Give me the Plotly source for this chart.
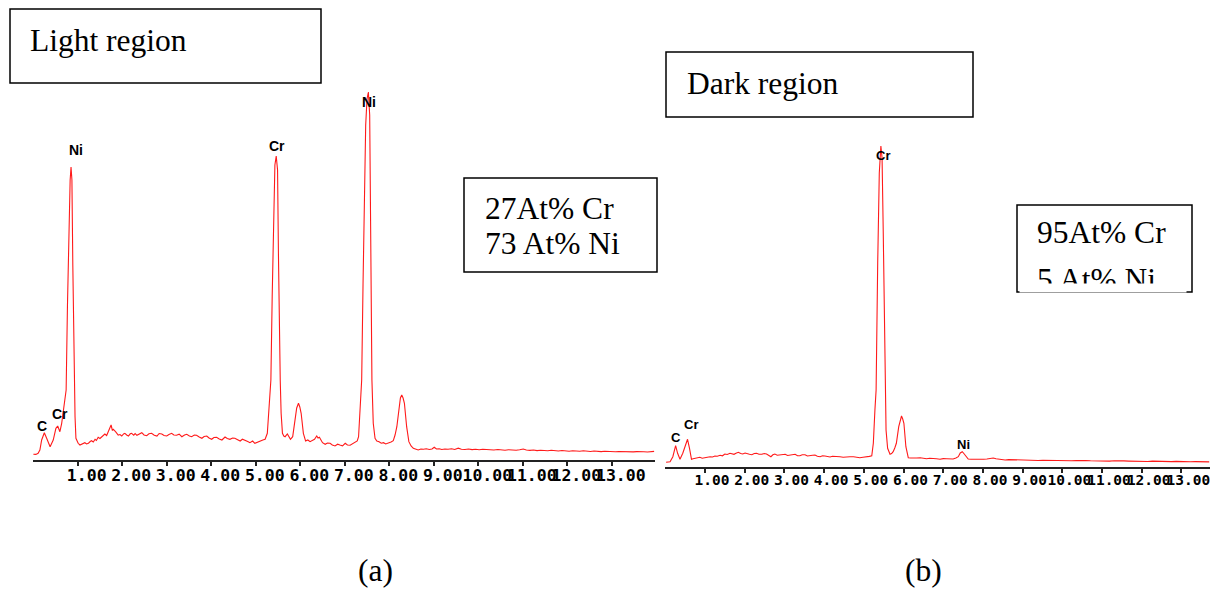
import plotly.graph_objects as go

W, H = 1212, 590

# ---------------- data ----------------
# Panel (a): light region EDS spectrum (energy keV, counts)
energy_a = [0.00, 0.06, 0.11, 0.15, 0.19, 0.25, 0.30, 0.34, 0.38, 0.45, 0.51, 0.55, 0.60, 0.64, 0.68,
            0.71, 0.74, 0.77, 0.80, 0.83, 0.85, 0.87, 0.89, 0.92, 0.94, 0.96, 1.01, 1.05, 1.09, 1.12,
            1.16, 1.20, 1.24, 1.28, 1.31, 1.35, 1.39, 1.42, 1.46, 1.50, 1.54, 1.58, 1.61, 1.65, 1.69,
            1.72, 1.75, 1.78, 1.80, 1.85, 1.88, 1.91, 1.95, 1.99, 2.03, 2.06, 2.10, 2.14, 2.18, 2.21,
            2.26, 2.29, 2.33, 2.38, 2.44, 2.49, 2.55, 2.60, 2.66, 2.72, 2.78, 2.83, 2.89, 2.94, 3.00,
            3.05, 3.11, 3.16, 3.22, 3.28, 3.34, 3.40, 3.45, 3.51, 3.56, 3.62, 3.67, 3.73, 3.79, 3.84,
            3.90, 3.95, 4.01, 4.06, 4.12, 4.18, 4.24, 4.31, 4.36, 4.42, 4.48, 4.53, 4.59, 4.65, 4.70,
            4.76, 4.82, 4.87, 4.93, 4.98, 5.04, 5.10, 5.16, 5.21, 5.26, 5.30, 5.34, 5.37, 5.40, 5.43,
            5.46, 5.49, 5.51, 5.53, 5.55, 5.57, 5.60, 5.63, 5.66, 5.71, 5.75, 5.78, 5.83, 5.88, 5.92,
            5.96, 5.99, 6.02, 6.07, 6.12, 6.17, 6.22, 6.27, 6.32, 6.37, 6.40, 6.43, 6.50, 6.56, 6.61,
            6.67, 6.72, 6.78, 6.84, 6.89, 6.95, 7.01, 7.06, 7.12, 7.18, 7.23, 7.28, 7.31, 7.34, 7.38,
            7.41, 7.44, 7.47, 7.50, 7.53, 7.56, 7.58, 7.61, 7.64, 7.68, 7.72, 7.77, 7.82, 7.87, 7.92,
            7.98, 8.04, 8.09, 8.13, 8.17, 8.22, 8.25, 8.28, 8.31, 8.34, 8.39, 8.44, 8.49, 8.54, 8.60,
            8.65, 8.71, 8.77, 8.83, 8.90, 8.96, 9.01, 9.06, 9.12, 9.18, 9.25, 9.32, 9.40, 9.47, 9.55,
            9.62, 9.70, 9.78, 9.86, 9.94, 10.02, 10.10, 10.18, 10.26, 10.35, 10.44, 10.52, 10.60, 10.68, 10.76,
            10.85, 10.93, 11.01, 11.08, 11.16, 11.24, 11.32, 11.40, 11.48, 11.56, 11.64, 11.72, 11.80, 11.88, 11.96,
            12.04, 12.12, 12.20, 12.28, 12.36, 12.44, 12.52, 12.60, 12.68, 12.76, 12.84, 12.92, 13.00, 13.08, 13.16,
            13.24, 13.32, 13.40, 13.48, 13.56, 13.64, 13.72, 13.80, 13.88, 13.95]
counts_a = [7, 6, 17, 50, 150, 223, 170, 120, 83, 150, 267, 290, 233, 317, 450,
            550, 650, 1500, 2300, 2750, 2880, 2750, 1900, 650, 383, 167, 117, 100, 107, 120,
            123, 110, 117, 135, 143, 130, 157, 145, 177, 165, 183, 200, 210, 195, 233,
            260, 300, 245, 257, 233, 215, 200, 205, 190, 210, 217, 200, 190, 212, 217,
            198, 215, 197, 210, 223, 200, 193, 212, 217, 198, 190, 215, 210, 195, 190,
            205, 217, 200, 197, 208, 183, 200, 207, 190, 183, 200, 197, 180, 167, 185,
            190, 170, 157, 175, 177, 160, 150, 180, 165, 157, 170, 167, 150, 140, 158,
            150, 135, 123, 140, 117, 130, 140, 150, 157, 217, 483, 750, 1600, 2500, 2900,
            2990, 2850, 2000, 1100, 750, 417, 217, 190, 183, 210, 175, 157, 183, 350, 470,
            517, 480, 417, 217, 140, 150, 133, 145, 157, 190, 170, 177, 123, 107, 120,
            117, 100, 90, 108, 100, 92, 117, 100, 97, 112, 123, 140, 183, 417, 750,
            1700, 2700, 3300, 3560, 3630, 3400, 2300, 750, 317, 167, 140, 133, 118, 123, 110,
            117, 130, 143, 200, 283, 483, 570, 600, 570, 517, 283, 133, 90, 67, 55,
            50, 60, 57, 62, 55, 60, 78, 60, 63, 55, 60, 57, 62, 55, 68,
            58, 55, 60, 54, 57, 52, 58, 54, 55, 50, 55, 52, 48, 53, 50,
            47, 52, 60, 50, 46, 50, 44, 48, 45, 42, 47, 44, 40, 45, 42,
            38, 43, 40, 37, 42, 38, 35, 40, 36, 34, 38, 34, 36, 32, 35,
            33, 30, 35, 31, 34, 30, 33, 30, 34, 36]

# Panel (b): dark region EDS spectrum (energy keV, counts)
energy_b = [0.02, 0.08, 0.12, 0.19, 0.26, 0.31, 0.37, 0.44, 0.50, 0.56, 0.61, 0.66, 0.70, 0.75, 0.81,
            0.87, 0.93, 1.00, 1.06, 1.13, 1.19, 1.25, 1.31, 1.38, 1.44, 1.50, 1.56, 1.63, 1.68, 1.73,
            1.78, 1.84, 1.90, 1.95, 2.01, 2.07, 2.12, 2.18, 2.24, 2.30, 2.36, 2.43, 2.49, 2.55, 2.60,
            2.66, 2.71, 2.76, 2.82, 2.89, 2.95, 3.02, 3.08, 3.14, 3.20, 3.27, 3.33, 3.39, 3.45, 3.52,
            3.58, 3.65, 3.71, 3.77, 3.83, 3.90, 3.96, 4.02, 4.08, 4.15, 4.21, 4.28, 4.34, 4.40, 4.48,
            4.57, 4.65, 4.74, 4.82, 4.90, 4.98, 5.07, 5.14, 5.20, 5.24, 5.28, 5.31, 5.35, 5.39, 5.43,
            5.46, 5.49, 5.52, 5.54, 5.56, 5.60, 5.66, 5.70, 5.74, 5.78, 5.82, 5.88, 5.92, 5.95, 5.98,
            6.01, 6.06, 6.12, 6.18, 6.25, 6.33, 6.42, 6.50, 6.58, 6.66, 6.75, 6.83, 6.92, 7.00, 7.09,
            7.17, 7.25, 7.32, 7.38, 7.43, 7.48, 7.52, 7.55, 7.60, 7.63, 7.70, 7.76, 7.85, 7.93, 8.02,
            8.10, 8.18, 8.26, 8.33, 8.39, 8.48, 8.56, 8.65, 8.73, 8.83, 8.93, 9.03, 9.15, 9.27, 9.39,
            9.51, 9.63, 9.75, 9.87, 9.99, 10.11, 10.23, 10.35, 10.47, 10.59, 10.71, 10.83, 10.95, 11.07, 11.19,
            11.31, 11.43, 11.55, 11.67, 11.79, 11.91, 12.03, 12.15, 12.27, 12.39, 12.51, 12.63, 12.75, 12.87, 12.99,
            13.11, 13.23, 13.35, 13.47, 13.59, 13.70]
counts_b = [7, 10, 13, 63, 173, 97, 37, 97, 180, 237, 147, 37, 42, 47, 52,
            57, 48, 50, 58, 63, 60, 70, 68, 77, 72, 90, 85, 97, 90, 87,
            98, 107, 95, 90, 100, 97, 88, 83, 95, 97, 88, 87, 95, 90, 80,
            63, 82, 90, 78, 80, 88, 87, 75, 77, 85, 87, 72, 73, 82, 83,
            70, 70, 77, 80, 68, 63, 72, 70, 62, 60, 67, 67, 60, 63, 58,
            57, 62, 63, 57, 53, 58, 60, 66, 73, 197, 530, 730, 2000, 2900, 3170,
            3050, 2300, 1200, 730, 330, 147, 87, 95, 113, 150, 197, 363, 440, 470, 440,
            397, 163, 53, 50, 47, 50, 53, 45, 43, 48, 47, 42, 37, 44, 43,
            38, 40, 50, 63, 100, 113, 95, 80, 50, 40, 38, 37, 35, 33, 38,
            40, 45, 50, 42, 37, 32, 30, 34, 33, 30, 27, 30, 27, 29, 25,
            28, 26, 24, 27, 23, 25, 22, 25, 21, 24, 22, 20, 24, 21, 19,
            22, 18, 21, 19, 17, 20, 17, 15, 19, 16, 14, 17, 14, 16, 13,
            15, 12, 14, 12, 13, 11]

tick_values = [1, 2, 3, 4, 5, 6, 7, 8, 9, 10, 11, 12, 13]
tick_labels = ["1.00", "2.00", "3.00", "4.00", "5.00", "6.00", "7.00", "8.00", "9.00",
               "10.00", "11.00", "12.00", "13.00"]

# peak labels: (text, energy, counts)
peaks_a = [("C", 0.20, 290), ("Cr", 0.60, 410), ("Ni", 0.96, 3050), ("Cr", 5.47, 3090), ("Ni", 7.55, 3530)]
peaks_b = [("C", 0.27, 257), ("Cr", 0.65, 390), ("Cr", 5.48, 3080), ("Ni", 7.52, 190)]


def px(x):
    return x / W


def py(y):
    return 1 - y / H


RED = "#ff1a1a"
fig = go.Figure()
fig.add_trace(go.Scatter(x=energy_a, y=counts_a, mode="lines", line=dict(color=RED, width=1.1),
                         xaxis="x", yaxis="y", hoverinfo="skip"))
fig.add_trace(go.Scatter(x=energy_b, y=counts_b, mode="lines", line=dict(color=RED, width=1.1),
                         xaxis="x2", yaxis="y2", hoverinfo="skip"))

axis_common = dict(showgrid=False, zeroline=False, showline=True, linecolor="#222", linewidth=1.5,
                   ticks="outside", ticklen=4, tickwidth=1.5, tickcolor="#222",
                   tickvals=tick_values, ticktext=tick_labels, tickangle=0, fixedrange=True)

fig.update_layout(
    width=W, height=H, margin=dict(l=0, r=0, t=0, b=0),
    paper_bgcolor="white", plot_bgcolor="white", showlegend=False,
    xaxis=dict(domain=[px(33.2), px(655)], range=[0, 13.97], anchor="y",
               tickfont=dict(family="DejaVu Sans Mono", size=16.5, color="black", weight="bold"),
               ticklabelshift=9, ticklabelstandoff=-5, **axis_common),
    yaxis=dict(domain=[py(460), py(85)], range=[-50, 3700], visible=False, fixedrange=True, anchor="x"),
    xaxis2=dict(domain=[px(665.3), px(1210)], range=[0, 13.72], anchor="y2",
                tickfont=dict(family="DejaVu Sans Mono", size=14.5, color="black", weight="bold"),
                ticklabelshift=7, ticklabelstandoff=-5, **axis_common),
    yaxis2=dict(domain=[py(467), py(140)], range=[-40, 3230], visible=False, fixedrange=True, anchor="x2"),
)

ann = []
for t, e, c in peaks_a:
    ann.append(dict(text=t, x=e, y=c, xref="x", yref="y", showarrow=False, xanchor="center", yanchor="middle",
                    font=dict(family="Liberation Sans", size=14, color="black", weight="bold")))
for t, e, c in peaks_b:
    ann.append(dict(text=t, x=e, y=c, xref="x2", yref="y2", showarrow=False, xanchor="center", yanchor="middle",
                    font=dict(family="Liberation Sans", size=13, color="black", weight="bold")))

serif = dict(family="Liberation Serif", size=31.5, color="black")


def text_at(txt, x_left, y_center, anchor="left"):
    ann.append(dict(text=txt, x=px(x_left), y=py(y_center), xref="paper", yref="paper", showarrow=False,
                    xanchor=anchor, yanchor="middle", font=serif))


text_at("Light region", 28, 40)
text_at("Dark region", 685, 83)
text_at("27At% Cr", 483, 208)
text_at("73 At% Ni", 483, 244)
text_at("95At% Cr", 1035, 232)
text_at("5 At% Ni", 1035, 279)
# clip bottom of second line inside the right box
ann.append(dict(text=" ", x=px(1019), y=py(283), xref="paper", yref="paper", showarrow=False,
                xanchor="left", yanchor="top", width=166, height=7.5, bgcolor="white",
                borderpad=0, font=dict(size=2)))
text_at("(a)", 375, 570, anchor="center")
text_at("(b)", 923, 570, anchor="center")
fig.update_layout(annotations=ann)

boxes = [(10, 9, 321, 83), (666, 52, 973, 117), (464, 178, 657, 272), (1017, 205, 1192, 292)]
for x0, y0, x1, y1 in boxes:
    fig.add_shape(type="rect", xref="paper", yref="paper", x0=px(x0), y0=py(y0), x1=px(x1), y1=py(y1),
                  line=dict(color="black", width=1.5), fillcolor="rgba(0,0,0,0)")

fig.write_html("out.html", config={"displayModeBar": False},
               post_script="document.body.style.margin='0px';")
